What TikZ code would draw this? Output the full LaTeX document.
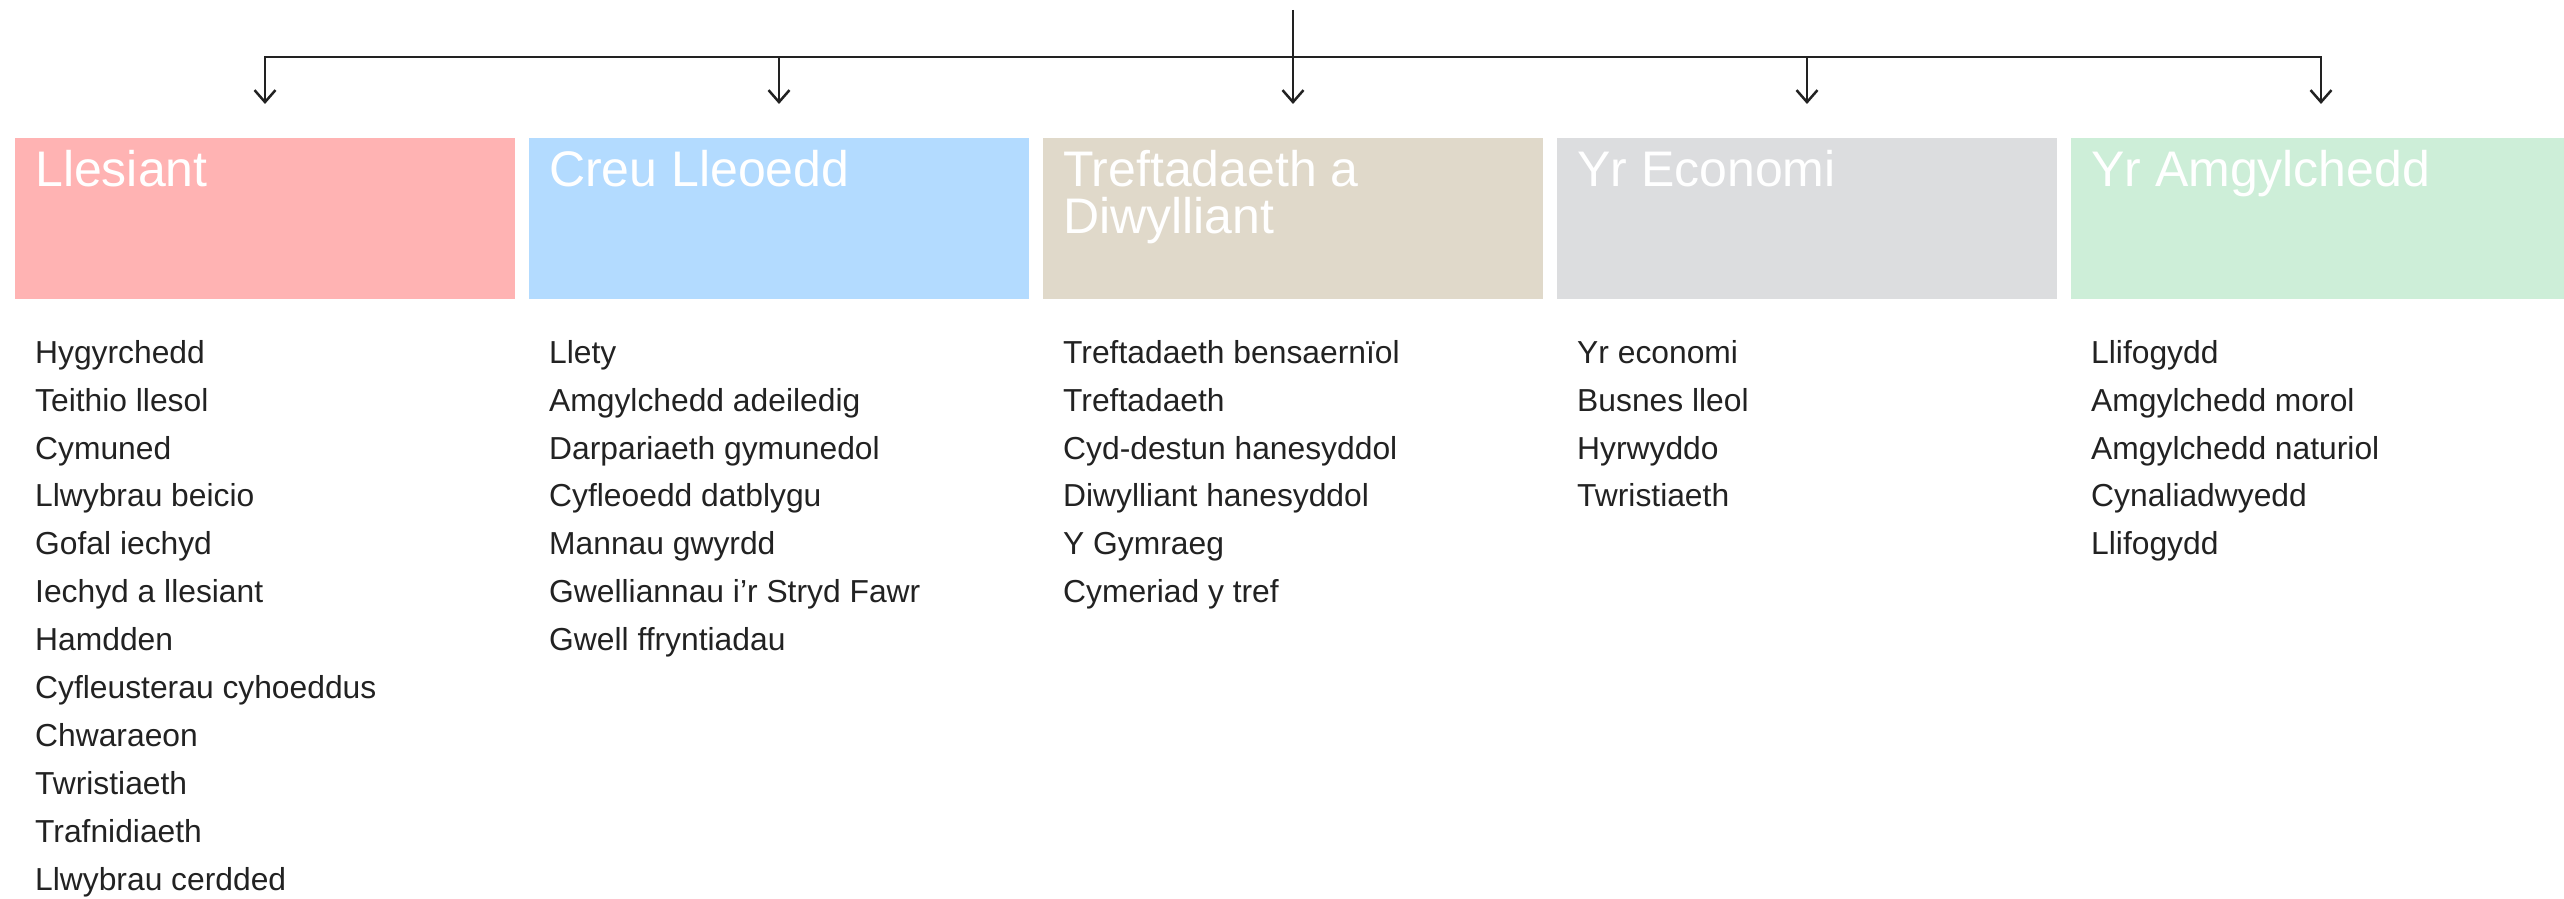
\documentclass[tikz,border=0pt]{standalone}
\usepackage{fontspec}
\setmainfont{Liberation Sans}
\usetikzlibrary{arrows.meta, positioning, calc}
\definecolor{llesiantpink}{HTML}{FFB3B3}
\definecolor{lleoeddblue}{HTML}{B3DBFF}
\definecolor{treftadbeige}{HTML}{E0D9CA}
\definecolor{economigray}{HTML}{DCDDDF}
\definecolor{amgylgreen}{HTML}{CDEED8}
\definecolor{textdark}{HTML}{222222}

\begin{document}
\begin{tikzpicture}[
    x=1pt, y=1pt,
    node distance=14pt,
    themebox/.style={
        rectangle,
        fill=#1,
        minimum width=500pt,
        minimum height=161pt,
        inner sep=0pt,
        outer sep=0pt
    },
    themetitle/.style={
        text=white,
        font=\fontsize{50}{47}\selectfont,
        align=left,
        inner sep=0pt
    },
    itemlist/.style={
        text=textdark,
        font=\fontsize{31.8}{47.9}\selectfont,
        align=left,
        inner sep=0pt
    },
    myarrow/.style={
        -{Straight Barb[length=12pt, width=21pt]},
        line width=2.5pt,
        draw=textdark,
        shorten >=34pt
    }
]
\useasboundingbox (0,0) rectangle (2564,898);

% Theme boxes
\node[themebox=llesiantpink] (lles) at (265,679.5) {};
\node[themebox=lleoeddblue, right=of lles] (creu) {};
\node[themebox=treftadbeige, right=of creu] (tref) {};
\node[themebox=economigray, right=of tref] (econ) {};
\node[themebox=amgylgreen, right=of econ] (amgy) {};

% Titles
\node[themetitle, below right=12pt and 20pt of lles.north west] (llesT) {Llesiant};
\node[themetitle, below right=12pt and 20pt of creu.north west] (creuT) {Creu Lleoedd};
\node[themetitle, below right=12pt and 20pt of tref.north west] (trefT) {Treftadaeth a\\Diwylliant};
\node[themetitle, below right=12pt and 20pt of econ.north west] (econT) {Yr Economi};
\node[themetitle, below right=12pt and 20pt of amgy.north west] (amgyT) {Yr Amgylchedd};

% Topic lists
\node[itemlist, below right=41pt and 20pt of lles.south west] (llesL) {Hygyrchedd\\Teithio llesol\\Cymuned\\Llwybrau beicio\\Gofal iechyd\\Iechyd a llesiant\\Hamdden\\Cyfleusterau cyhoeddus\\Chwaraeon\\Twristiaeth\\Trafnidiaeth\\Llwybrau cerdded};
\node[itemlist, below right=41pt and 20pt of creu.south west] (creuL) {Llety\\Amgylchedd adeiledig\\Darpariaeth gymunedol\\Cyfleoedd datblygu\\Mannau gwyrdd\\Gwelliannau i’r Stryd Fawr\\Gwell ffryntiadau};
\node[itemlist, below right=41pt and 20pt of tref.south west] (trefL) {Treftadaeth bensaernïol\\Treftadaeth\\Cyd-destun hanesyddol\\Diwylliant hanesyddol\\Y Gymraeg\\Cymeriad y tref};
\node[itemlist, below right=41pt and 20pt of econ.south west] (econL) {Yr economi\\Busnes lleol\\Hyrwyddo\\Twristiaeth};
\node[itemlist, below right=41pt and 20pt of amgy.south west] (amgyL) {Llifogydd\\Amgylchedd morol\\Amgylchedd naturiol\\Cynaliadwyedd\\Llifogydd};

% Arrows
\coordinate (top) at ($(tref.north)+(0,128)$);
\coordinate (bus) at ($(tref.north)+(0,81)$);
\draw[myarrow] (top) -- (tref.north);
\draw[myarrow] (bus) -| (lles.north);
\draw[myarrow] (bus) -| (creu.north);
\draw[myarrow] (bus) -| (econ.north);
\draw[myarrow] (bus) -| (amgy.north);

\end{tikzpicture}
\end{document}
